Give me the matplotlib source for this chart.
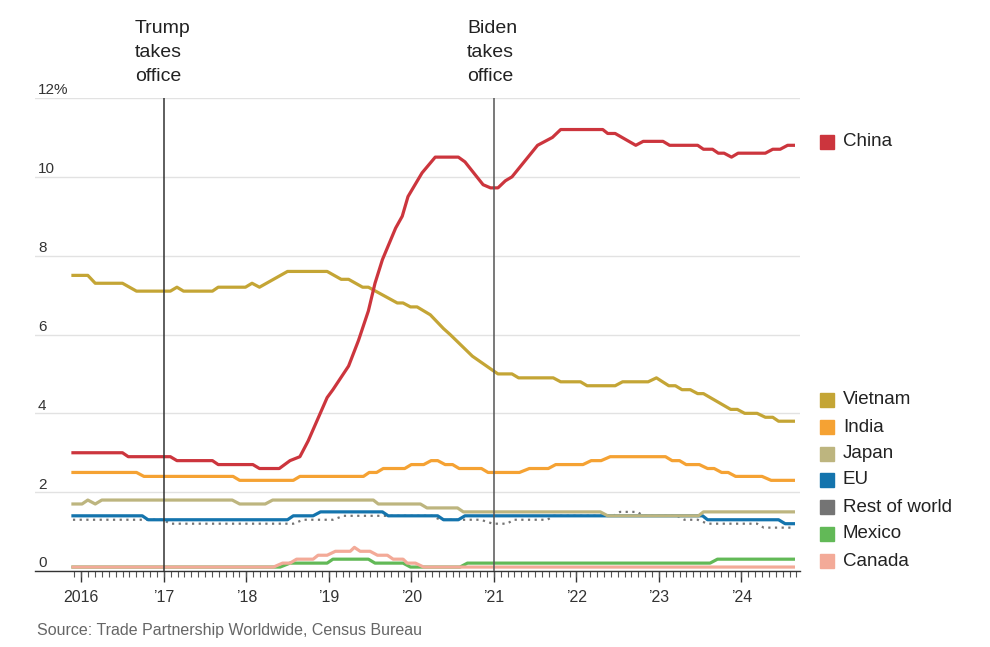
import numpy as np
import matplotlib
matplotlib.use("Agg")
import matplotlib.pyplot as plt
from matplotlib import font_manager
from matplotlib.patches import Rectangle
from matplotlib.ticker import FixedLocator

# share of US imports, % (decimal year, value)
china_t = [2015.90, 2016.50, 2016.57, 2017.08, 2017.16, 2017.59, 2017.66, 2018.08, 2018.16, 2018.40,
           2018.53, 2018.65, 2018.75, 2018.98, 2019.05, 2019.24, 2019.36, 2019.48, 2019.56, 2019.65,
           2019.81, 2019.89, 2019.96, 2020.13, 2020.29, 2020.57, 2020.65, 2020.87, 2020.96, 2021.05,
           2021.14, 2021.22, 2021.53, 2021.71, 2021.81, 2022.32, 2022.38, 2022.47, 2022.72, 2022.81,
           2023.05, 2023.13, 2023.47, 2023.54, 2023.65, 2023.72, 2023.79, 2023.88, 2023.96, 2024.29,
           2024.38, 2024.47, 2024.56, 2024.63]
china_v = [3.0, 3.0, 2.9, 2.9, 2.8, 2.8, 2.7, 2.7, 2.6, 2.6,
           2.8, 2.9, 3.3, 4.4, 4.6, 5.2, 5.85, 6.6, 7.3, 7.9,
           8.7, 9.0, 9.5, 10.1, 10.5, 10.5, 10.38, 9.8, 9.72, 9.72,
           9.9, 10.0, 10.8, 11.0, 11.2, 11.2, 11.1, 11.1, 10.8, 10.9,
           10.9, 10.8, 10.8, 10.7, 10.7, 10.6, 10.6, 10.5, 10.6, 10.6,
           10.7, 10.7, 10.8, 10.8]

vietnam_t = [2015.90, 2016.08, 2016.17, 2016.50, 2016.67, 2017.08, 2017.16, 2017.24, 2017.59, 2017.66,
             2017.99, 2018.07, 2018.16, 2018.50, 2018.98, 2019.15, 2019.24, 2019.41, 2019.48, 2019.83,
             2019.90, 2019.99, 2020.07, 2020.23, 2020.39, 2020.47, 2020.74, 2020.98, 2021.05, 2021.22,
             2021.30, 2021.72, 2021.81, 2022.05, 2022.13, 2022.47, 2022.56, 2022.87, 2022.97, 2023.12,
             2023.20, 2023.28, 2023.38, 2023.47, 2023.54, 2023.87, 2023.95, 2024.04, 2024.19, 2024.29,
             2024.38, 2024.45, 2024.63]
vietnam_v = [7.5, 7.5, 7.3, 7.3, 7.1, 7.1, 7.2, 7.1, 7.1, 7.2,
             7.2, 7.3, 7.2, 7.6, 7.6, 7.4, 7.4, 7.2, 7.2, 6.8,
             6.8, 6.7, 6.7, 6.5, 6.15, 6.0, 5.45, 5.1, 5.0, 5.0,
             4.9, 4.9, 4.8, 4.8, 4.7, 4.7, 4.8, 4.8, 4.9, 4.7,
             4.7, 4.6, 4.6, 4.5, 4.5, 4.1, 4.1, 4.0, 4.0, 3.9,
             3.9, 3.8, 3.8]

india_t = [2015.90, 2016.67, 2016.76, 2017.84, 2017.92, 2018.57, 2018.65, 2019.42, 2019.49, 2019.58,
           2019.66, 2019.92, 2020.00, 2020.15, 2020.24, 2020.32, 2020.41, 2020.50, 2020.58, 2020.85,
           2020.93, 2021.31, 2021.43, 2021.66, 2021.75, 2022.08, 2022.18, 2022.30, 2022.41, 2023.08,
           2023.16, 2023.25, 2023.33, 2023.49, 2023.59, 2023.67, 2023.76, 2023.84, 2023.93, 2024.25,
           2024.36, 2024.63]
india_v = [2.5, 2.5, 2.4, 2.4, 2.3, 2.3, 2.4, 2.4, 2.5, 2.5,
           2.6, 2.6, 2.7, 2.7, 2.8, 2.8, 2.7, 2.7, 2.6, 2.6,
           2.5, 2.5, 2.6, 2.6, 2.7, 2.7, 2.8, 2.8, 2.9, 2.9,
           2.8, 2.8, 2.7, 2.7, 2.6, 2.6, 2.5, 2.5, 2.4, 2.4,
           2.3, 2.3]

japan_t = [2015.90, 2016.01, 2016.08, 2016.17, 2016.25, 2017.83, 2017.92, 2018.23, 2018.32, 2019.54,
           2019.60, 2020.11, 2020.19, 2020.56, 2020.63, 2022.29, 2022.38, 2023.48, 2023.54, 2024.63]
japan_v = [1.7, 1.7, 1.8, 1.7, 1.8, 1.8, 1.7, 1.7, 1.8, 1.8,
           1.7, 1.7, 1.6, 1.6, 1.5, 1.5, 1.4, 1.4, 1.5, 1.5]

eu_t = [2015.90, 2016.74, 2016.81, 2018.50, 2018.57, 2018.81, 2018.90, 2019.65, 2019.72, 2020.32,
        2020.39, 2020.57, 2020.65, 2023.53, 2023.59, 2024.45, 2024.53, 2024.63]
eu_v = [1.4, 1.4, 1.3, 1.3, 1.4, 1.4, 1.5, 1.5, 1.4, 1.4,
        1.3, 1.3, 1.4, 1.4, 1.3, 1.3, 1.2, 1.2]

row_t = [2015.90, 2016.99, 2017.08, 2018.57, 2018.69, 2019.05, 2019.18, 2020.25, 2020.35, 2020.84,
         2020.99, 2021.16, 2021.24, 2021.65, 2021.72, 2022.45, 2022.53, 2022.74, 2022.81, 2023.22,
         2023.31, 2023.47, 2023.59, 2024.19, 2024.27, 2024.63]
row_v = [1.3, 1.3, 1.2, 1.2, 1.3, 1.3, 1.4, 1.4, 1.3, 1.3,
         1.2, 1.2, 1.3, 1.3, 1.4, 1.4, 1.5, 1.5, 1.4, 1.4,
         1.3, 1.3, 1.2, 1.2, 1.1, 1.1]

mexico_t = [2015.90, 2018.41, 2018.53, 2018.98, 2019.05, 2019.48, 2019.56, 2019.90, 2019.99, 2020.59,
            2020.68, 2023.62, 2023.71, 2024.63]
mexico_v = [0.1, 0.1, 0.2, 0.2, 0.3, 0.3, 0.2, 0.2, 0.1, 0.1,
            0.2, 0.2, 0.3, 0.3]

canada_t = [2015.90, 2018.33, 2018.44, 2018.53, 2018.61, 2018.81, 2018.87, 2018.98, 2019.08, 2019.26,
            2019.31, 2019.38, 2019.50, 2019.59, 2019.71, 2019.78, 2019.90, 2019.95, 2020.05, 2020.15,
            2024.63]
canada_v = [0.1, 0.1, 0.2, 0.2, 0.3, 0.3, 0.4, 0.4, 0.5, 0.5,
            0.6, 0.5, 0.5, 0.4, 0.4, 0.3, 0.3, 0.2, 0.2, 0.1,
            0.1]

years = list(range(2016, 2025))
year_labels = ["2016", "\u201917", "\u201918", "\u201919", "\u201920", "\u201921", "\u201922", "\u201923", "\u201924"]
y_ticks = [0, 2, 4, 6, 8, 10, 12]
y_labels = ["0", "2", "4", "6", "8", "10", "12%"]

c_china = "#cc353d"
c_vietnam = "#c4a535"
c_india = "#f5a233"
c_japan = "#bdb57f"
c_eu = "#1474ad"
c_row = "#747474"
c_mexico = "#62b957"
c_canada = "#f3aa98"

names = {f.name for f in font_manager.fontManager.ttflist}
narrow = "Liberation Sans Narrow" if "Liberation Sans Narrow" in names else "Liberation Sans"
plt.rcParams["font.family"] = ["Liberation Sans", "DejaVu Sans"]

W, H = 990, 647
fig = plt.figure(figsize=(W / 100, H / 100), dpi=100)
ax = fig.add_axes([35 / W, 1 - 571 / H, 765 / W, 473 / H])

lw = 2.3
ax.plot(row_t, row_v, color=c_row, lw=1.6, linestyle=(0, (1, 2)), dash_capstyle="butt")
ax.plot(eu_t, eu_v, color=c_eu, lw=lw)
ax.plot(japan_t, japan_v, color=c_japan, lw=lw)
ax.plot(mexico_t, mexico_v, color=c_mexico, lw=lw)
ax.plot(canada_t, canada_v, color=c_canada, lw=lw)
ax.plot(india_t, india_v, color=c_india, lw=lw)
ax.plot(vietnam_t, vietnam_v, color=c_vietnam, lw=lw)
ax.plot(china_t, china_v, color=c_china, lw=lw)

ax.axvline(2017.0, color="#333333", lw=1.1, zorder=5)
ax.axvline(2021.0, color="#555555", lw=1.1, zorder=5)

ax.set_xlim(2015.44, 2024.71)
ax.set_ylim(0, 12)
ax.set_yticks(y_ticks)
ax.set_yticklabels([])
ax.tick_params(axis="y", length=0)
ax.grid(axis="y", color="#e2e2e2", lw=1)
ax.set_axisbelow(True)
for v, lab in zip(y_ticks, y_labels):
    ax.text(0.004, v + 0.09, lab, transform=ax.get_yaxis_transform(), ha="left", va="baseline",
            fontsize=11, color="#333333", family=[narrow, "DejaVu Sans"])

ax.set_xticks(years)
ax.set_xticklabels(year_labels, fontsize=11.5, color="#333333", family=[narrow, "DejaVu Sans"])
ax.xaxis.set_minor_locator(FixedLocator(np.arange(2015.917, 2024.72, 1 / 12)))
ax.tick_params(axis="x", which="major", length=8, width=1, color="#333333", pad=6)
ax.tick_params(axis="x", which="minor", length=4, width=0.8, color="#555555")
for s in ["top", "right", "left"]:
    ax.spines[s].set_visible(False)
ax.spines["bottom"].set_color("#333333")
ax.spines["bottom"].set_linewidth(1)

fig.text(135 / W, 1 - 20 / H, "Trump\ntakes\noffice", ha="left", va="top", fontsize=14,
         color="#222222", linespacing=1.52)
fig.text(467 / W, 1 - 20 / H, "Biden\ntakes\noffice", ha="left", va="top", fontsize=14,
         color="#222222", linespacing=1.52)

legend = [("China", c_china, 142), ("Vietnam", c_vietnam, 400), ("India", c_india, 427),
          ("Japan", c_japan, 454), ("EU", c_eu, 480), ("Rest of world", c_row, 507),
          ("Mexico", c_mexico, 534), ("Canada", c_canada, 561)]
for name, col, yp in legend:
    fig.patches.append(Rectangle((820 / W, 1 - (yp + 7) / H), 14 / W, 14 / H,
                                 transform=fig.transFigure, figure=fig, color=col))
    fig.text(843 / W, 1 - yp / H, name, ha="left", va="center", fontsize=13.5, color="#222222")

fig.text(37 / W, 1 - 631 / H, "Source: Trade Partnership Worldwide, Census Bureau", ha="left",
         va="center", fontsize=11.5, color="#666666", family=[narrow, "DejaVu Sans"])

fig.savefig("out.png", dpi=100)
